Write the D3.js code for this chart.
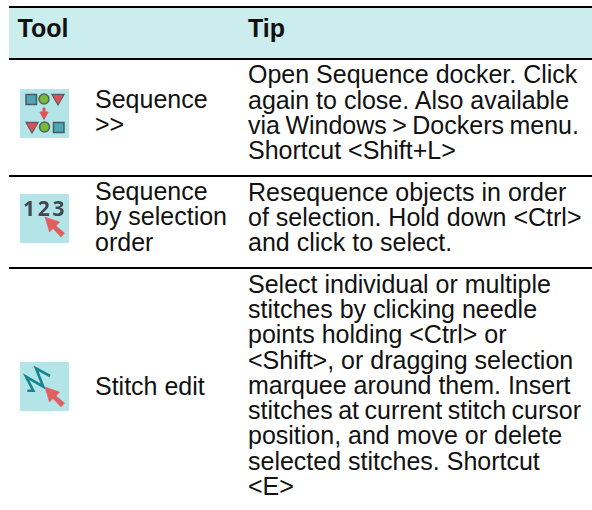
<!DOCTYPE html>
<html>
<head>
<meta charset="utf-8">
<script src="https://cdn.jsdelivr.net/npm/d3@7"></script>
<style>
body { margin: 0; background: #fff; }
text { font-family: "Liberation Sans", Arial, sans-serif; fill: #111; }
</style>
</head>
<body>
<svg id="table"></svg>
<script>
// table content
var headers = ["Tool", "Tip"];
var toolNames = [
    ["Sequence", ">>"],
    ["Sequence", "by selection", "order"],
    ["Stitch edit"]
];
var tips = [
    ["Open Sequence docker. Click", "again to close. Also available", "via Windows > Dockers menu.", "Shortcut <Shift+L>"],
    ["Resequence objects in order", "of selection. Hold down <Ctrl>", "and click to select."],
    ["Select individual or multiple", "stitches by clicking needle", "points holding <Ctrl> or", "<Shift>, or dragging selection", "marquee around them. Insert", "stitches at current stitch cursor", "position, and move or delete", "selected stitches. Shortcut", "<E>"]
];

var width = 592, height = 510;
var left = 9;
var iconSize = 49;
var fontSize = 25;
var lineStep = 25.3;

// horizontal rules
var ruleY = [7, 59, 176, 268];
// first baseline of each tip / tool cell
var tipBase = [83.3, 200.7, 292.7];
var toolBase = [108, 200, 395];
var iconTop = [89, 194, 362];

var x = d3.scaleOrdinal().domain(["tool", "name", "tip"]).range([17.5, 95, 248]);
var line = d3.scaleLinear().domain([0, 1]).range([0, lineStep]);
var rows = d3.range(tips.length);

var svg = d3.select('svg#table')
    .attr("width", width)
    .attr("height", height);

var defs = svg.append("defs");
defs.append("filter").attr("id", "soft")
    .append("feGaussianBlur").attr("stdDeviation", 0.7);

//header band
svg.append("rect")
    .attr("x", left).attr("y", ruleY[0])
    .attr("width", width - left).attr("height", ruleY[1] - ruleY[0])
    .attr("fill", "#cbeded");

svg.selectAll("line.rule").data(ruleY).enter()
    .append("line")
    .attr("class", "rule")
    .attr("x1", left).attr("x2", width)
    .attr("y1", function (d) { return d; })
    .attr("y2", function (d) { return d; })
    .attr("stroke", "#000")
    .attr("stroke-width", 2);

svg.selectAll("text.head").data(headers).enter()
    .append("text")
    .attr("class", "head")
    .attr("x", function (d, i) { return i == 0 ? x("tool") : x("tip"); })
    .attr("y", 36.7)
    .attr("font-size", fontSize)
    .attr("font-weight", "bold")
    .text(function (d) { return d; });

function drawLines(cls, list, colX, base) {
    var g = svg.selectAll("g." + cls).data(list).enter()
        .append("g")
        .attr("class", cls)
        .attr("transform", function (d, i) { return "translate(" + colX + "," + base[i] + ")"; });
    g.selectAll("text").data(function (d) { return d; }).enter()
        .append("text")
        .attr("y", function (d, i) { return line(i); })
        .attr("font-size", fontSize)
        // the original squeezes the fullest lines a little
        .attr("word-spacing", function (d) { return d.length > 26 && d.indexOf("via") == 0 ? -1.5 : (d.indexOf("stitches at") == 0 ? -1.5 : 0); })
        .text(function (d) { return d; });
}
drawLines("name", toolNames, x("name"), toolBase);
drawLines("tip", tips, x("tip"), tipBase);

// icons
var icons = svg.selectAll("g.icon").data(rows).enter()
    .append("g")
    .attr("class", "icon")
    .attr("transform", function (d) { return "translate(20," + iconTop[d] + ")"; });
icons.append("rect")
    .attr("width", iconSize).attr("height", iconSize)
    .attr("fill", "#b3e5e8");
var art = icons.append("g").attr("filter", "url(#soft)");

var cursor = [[0, 0], [14.5, 5], [11, 9], [19.5, 16], [16, 20], [8, 11.5], [4.5, 15]];
function drawCursor(g, tx, ty) {
    g.append("path")
        .attr("d", d3.line()(cursor) + "Z")
        .attr("transform", "translate(" + tx + "," + ty + ")")
        .attr("fill", "#e0605f")
        .attr("stroke", "#e0605f")
        .attr("stroke-width", 0.6);
}

function square(g, sx, sy) {
    g.append("rect").attr("x", sx).attr("y", sy).attr("width", 10.5).attr("height", 10)
        .attr("fill", "#4ea6b4").attr("stroke", "#4c5a60").attr("stroke-width", 1.5);
}
function dot(g, cx, cy) {
    g.append("circle").attr("cx", cx).attr("cy", cy).attr("r", 5)
        .attr("fill", "#7cb93a").attr("stroke", "#4c6a50").attr("stroke-width", 1.5);
}
function tri(g, tx, ty) {
    g.append("path").attr("d", d3.line()([[tx, ty], [tx + 12, ty], [tx + 6, ty + 10.5]]) + "Z")
        .attr("fill", "#e0505a").attr("stroke", "#6a5a5c").attr("stroke-width", 1.3);
}

// sequence icon
var a0 = art.filter(function (d) { return d == 0; });
square(a0, 6, 5.5); dot(a0, 24, 10); tri(a0, 32, 5.5);
tri(a0, 6, 33.5); dot(a0, 24.5, 38); square(a0, 33.5, 33.5);
a0.append("path")
    .attr("d", d3.line()([[23, 19], [23, 23], [20, 23], [24, 30.5], [28, 23], [25, 23], [25, 19]]) + "Z")
    .attr("fill", "#e0505a").attr("stroke", "#e0505a");

// numbered icon
var a1 = art.filter(function (d) { return d == 1; });
a1.selectAll("text").data(["1", "2", "3"]).enter()
    .append("text")
    .attr("x", function (d, i) { return 9 + i * 14.7; })
    .attr("y", 22)
    .attr("text-anchor", "middle")
    .attr("font-size", 21)
    .attr("font-weight", "bold")
    .style("font-family", "'Noto Sans'")
    .style("fill", "#3f4a50")
    .text(function (d) { return d; });
drawCursor(a1, 25, 23);

// stitch icon
var a2 = art.filter(function (d) { return d == 2; });
a2.append("path")
    .attr("d", d3.line()([[30, 14], [16, 6.3], [23.3, 24.7], [6, 14.7], [13.3, 28.7], [7.3, 28.7]]))
    .attr("fill", "none")
    .attr("stroke", "#17858f")
    .attr("stroke-width", 2.6);
drawCursor(a2, 25, 25);
</script>
</body>
</html>
